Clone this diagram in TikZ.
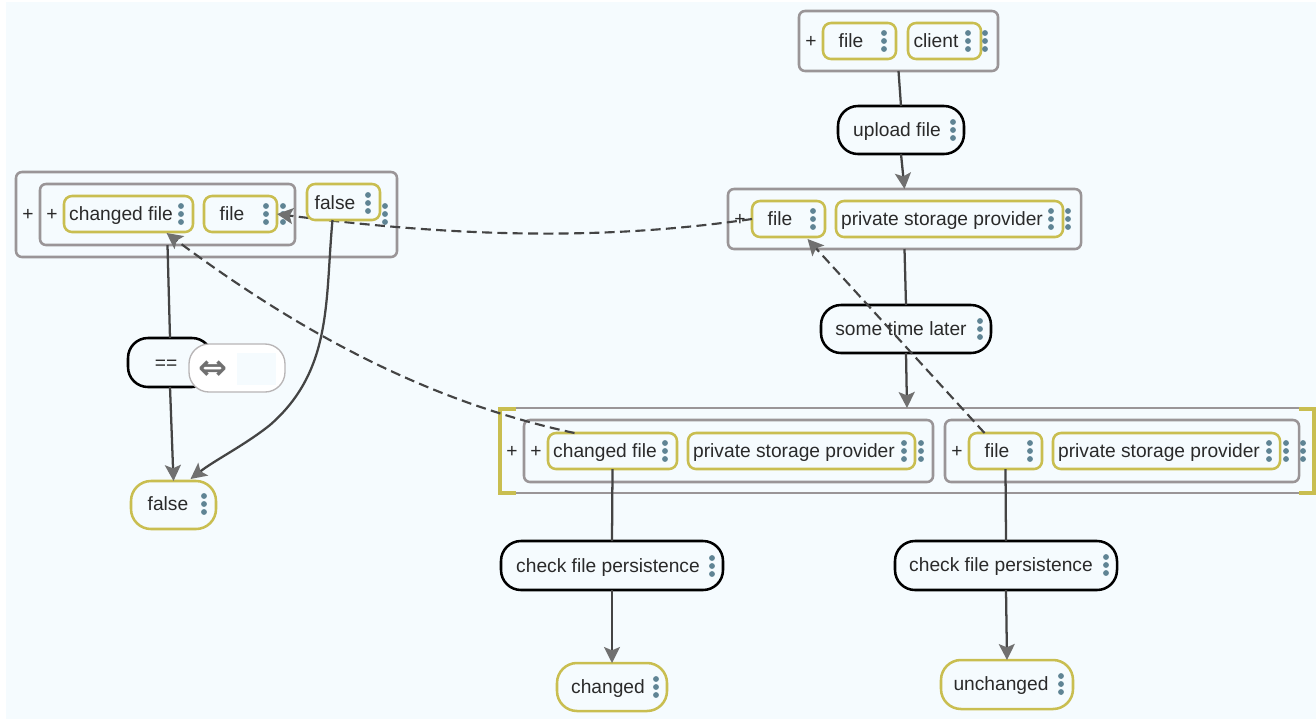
\documentclass[tikz,border=0pt]{standalone}
\usepackage{fontspec}
\setmainfont{Liberation Sans}
\newfontfamily\symfont{DejaVu Sans}
\usetikzlibrary{arrows.meta,calc}
\definecolor{pagebg}{HTML}{F5FBFE}
\definecolor{graybd}{HTML}{9A9597}
\definecolor{olive}{HTML}{C9BE50}
\definecolor{dotc}{HTML}{5F8494}
\definecolor{ink}{HTML}{2A2A2A}
\definecolor{edgec}{HTML}{444444}
\definecolor{headc}{HTML}{707070}
\tikzset{
  x=0.75pt,y=-0.75pt,
  every node/.style={inner sep=0pt,outer sep=0pt},
  outerbox/.style={draw=graybd,line width=1.9pt,rounded corners=4.5pt},
  termbox/.style={draw=olive,fill=pagebg,line width=1.9pt,rounded corners=6pt},
  termpill/.style={draw=olive,fill=pagebg,line width=1.9pt,rounded corners=15pt},
  actbox/.style={draw=black,fill=pagebg,line width=1.9pt,rounded corners=15pt},
  lab/.style={text=ink,font=\fontsize{14.4}{16}\selectfont,anchor=base},
  solidedge/.style={draw=edgec,line width=1.7pt,-{Stealth[length=12pt,width=12pt,inset=2.5pt,color=headc]}},
  plainedge/.style={draw=edgec,line width=1.7pt},
  dashedge/.style={draw=edgec,line width=1.6pt,dash pattern=on 7.5pt off 4pt,-{Stealth[length=12pt,width=12pt,inset=2.5pt,color=headc]}}
}
\newcommand{\bx}[6]{%
  \pgfmathsetmacro{\bw}{(#5-#3)*0.75}\pgfmathsetmacro{\bh}{(#6-#4)*0.75}%
  \node[#1,minimum width=\bw pt,minimum height=\bh pt] (#2) at ({(#3+#5)/2},{(#4+#6)/2}) {};}
\newcommand{\lb}[4]{\node[lab] (#1) at (#2,#3+6.5) {#4};}
\newcommand{\dts}[2]{\fill[dotc] (#1,#2-8) circle (2.2pt) (#1,#2) circle (2.2pt) (#1,#2+8) circle (2.2pt);}
\begin{document}
\begin{tikzpicture}
\useasboundingbox (0,0) rectangle (1316,719);
\fill[white] (0,0) rectangle (1316,719);
\fill[pagebg] (6,2) rectangle (1316,719);
% top
\bx{outerbox}{top}{799}{11}{998}{71}
\lb{ptop}{811}{41}{+}
\bx{termbox}{tfile}{823}{23}{896}{59}
\lb{ltfile}{851}{41}{file}\dts{884}{41}
\bx{termbox}{tclient}{908}{23}{981}{59}
\lb{ltclient}{936}{41}{client}\dts{968}{41}\dts{985}{41}
\bx{actbox}{upload}{838}{106}{964}{154}
\lb{lupload}{897}{130}{upload file}\dts{953}{130}
% middle
\bx{outerbox}{mid}{728}{189}{1081}{249}
\bx{termbox}{mfile}{752}{201}{825}{237}
\lb{lmfile}{780}{219}{file}\dts{813}{219}
\bx{termbox}{mpsp}{836}{201}{1063}{237}
\lb{lmpsp}{942}{219}{private storage provider}\dts{1051}{219}\dts{1068}{219}
\lb{pmid}{740}{219}{+}
\bx{actbox}{later}{821}{305}{991}{353}
\lb{llater}{901}{329}{some time later}\dts{980}{329}
% big row
\draw[graybd,line width=1.9pt] (500,408) coordinate (bigtl) -- (1314,408) coordinate (bigtr);
\draw[graybd,line width=1.9pt] (500,493) -- (1314,493);
\draw[olive,line width=3.4pt] (516,409) -- (500,409) -- (500,493) -- (516,493);
\draw[olive,line width=3.4pt] (1299,409) -- (1314,409) -- (1314,493) -- (1299,493);
\coordinate (big) at (907,408);
\lb{pbig}{512}{451}{+}
\bx{outerbox}{binl}{524}{420}{933}{482}
\lb{pbinl}{536}{451}{+}
\bx{termbox}{bcf}{548}{433}{677}{469}
\lb{lbcf}{605}{451}{changed file}\dts{665}{451}
\bx{termbox}{bpsp}{688}{433}{915}{469}
\lb{lbpsp}{794}{451}{private storage provider}\dts{904}{451}\dts{921}{451}
\bx{outerbox}{binr}{945}{420}{1299}{482}
\lb{pbinr}{957}{451}{+}
\bx{termbox}{brf}{969}{433}{1042}{469}
\lb{lbrf}{997}{451}{file}\dts{1030}{451}
\bx{termbox}{brpsp}{1053}{433}{1280}{469}
\lb{lbrpsp}{1159}{451}{private storage provider}\dts{1269}{451}\dts{1286}{451}\dts{1303}{451}
% checks
\bx{actbox}{chkl}{501}{541}{723}{590}
\lb{lchkl}{608}{566}{check file persistence}\dts{712}{566}
\bx{actbox}{chkr}{895}{541}{1117}{590}
\lb{lchkr}{1001}{565}{check file persistence}\dts{1106}{565}
\bx{termpill}{chg}{557}{663}{667}{711}
\lb{lchg}{608}{687}{changed}\dts{656}{687}
\bx{termpill}{unchg}{941}{660}{1073}{709}
\lb{lunchg}{1001}{684}{unchanged}\dts{1061}{684}
% left group
\bx{outerbox}{lout}{16}{172}{397}{257}
\lb{plout}{28}{214}{+}
\bx{outerbox}{linn}{40}{184}{295}{245}
\lb{plinn}{52}{214}{+}
\bx{termbox}{lcf}{64}{196}{193}{232}
\lb{llcf}{121}{214}{changed file}\dts{181}{214}
\bx{termbox}{lfile}{204}{196}{277}{232}
\lb{llfile}{232}{214}{file}\dts{266}{214}\dts{283}{214}\dts{385}{214}
\bx{actbox}{eq}{128}{338}{212}{387}
\lb{leq}{166}{363}{==}
\bx{termpill}{bfalse}{131}{481}{216}{529}
\lb{lbfalse}{168}{504}{false}\dts{204}{504}
% solid edges
\draw[plainedge] (top.south) -- (upload.north);
\draw[solidedge] (upload.south) -- (mid.north);
\draw[plainedge] (mid.south) -- (later.north);
\draw[solidedge] (later.south) -- (big);
\draw[plainedge] (bcf.south) -- (chkl.north);
\draw[solidedge] (chkl.south) -- (chg.north);
\draw[plainedge] (brf.south) -- (chkr.north);
\draw[solidedge] (chkr.south) -- (unchg.north);
\draw[plainedge] (linn.south) -- (eq.north);
\draw[solidedge] (eq.south) -- (bfalse.north);
% dashed edges
\draw[dashedge] (mfile.west) .. controls (620,238) and (480,240) .. (lfile.east);
\draw[dashedge] ($(bcf.north)+(-38,0)$) .. controls (420,400) and (290,325) .. ($(lcf.south)+(38,1)$);
\draw[dashedge] ($(brf.north)+(-21,0)$) -- ($(mfile.south)+(19,2)$);
% false node above the dashed line
\bx{termbox}{lfalse}{307}{184}{380}{220}
\lb{llfalse}{335}{203}{false}\dts{368}{203}
\draw[solidedge] ($(lfalse.south)+(-11,0)$) .. controls (325,300) and (333,370) .. (270,425) .. controls (245,445) and (215,460) .. ($(bfalse.north)+(17,-2)$);
% overlay
\node[draw=graybd!70,fill=white,line width=1pt,rounded corners=15pt,minimum width=72pt,minimum height=36pt] (tool) at (237,368) {};
\fill[pagebg] (237,353) rectangle (276,385);
\node[text=headc,font=\symfont\bfseries\fontsize{26}{26}\selectfont] (icon) at (213,370) {⇔};
\end{tikzpicture}
\end{document}
